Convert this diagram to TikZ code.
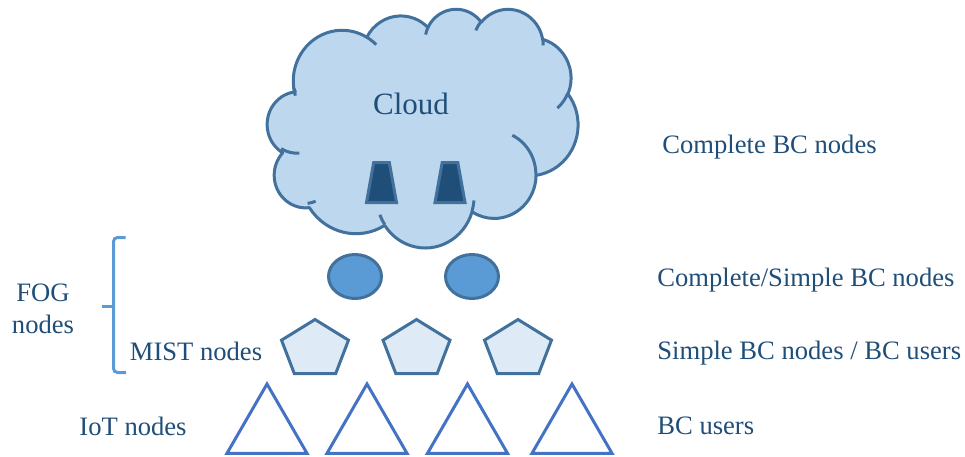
\documentclass[tikz,border=0pt]{standalone}
\usepackage{fontspec}
\setmainfont{Liberation Serif}
\usepackage{tikz}
\usetikzlibrary{shapes}

\definecolor{txtblue}{HTML}{1F4E79}
\definecolor{linebl}{HTML}{41719C}
\definecolor{cloudbl}{HTML}{BDD7EE}
\definecolor{fogbl}{HTML}{5B9BD5}
\definecolor{mistbl}{HTML}{DEEBF7}
\definecolor{iotbl}{HTML}{4472C4}

\begin{document}
\begin{tikzpicture}[x=0.5pt,y=0.5pt]
		\tikzset{lbl/.style={text=txtblue,inner sep=0pt,font=\fontsize{13.3}{16}\selectfont}};
		\tikzset{cloudline/.style={draw=linebl,line width=1.5pt,line join=round}};
		\tikzset{server/.style={fill=txtblue,draw=linebl,line width=1.5pt}};
		\tikzset{fognode/.style={ellipse,fill=fogbl,draw=linebl,line width=1.5pt,minimum width=26.5pt,minimum height=22pt,inner sep=0pt}};
		\tikzset{mistnode/.style={fill=mistbl,draw=linebl,line width=1.5pt,line join=miter}};
		\tikzset{iotnode/.style={regular polygon,regular polygon sides=3,draw=iotbl,line width=1.5pt,minimum size=46.3pt,inner sep=0pt}};
		
		\useasboundingbox (0,0) rectangle (965,-456);
		
		% cloud outline, puff by puff (elliptic arcs), then the inner strokes
		\begin{scope}[shift={(265.5,-8.5)},x=0.0036111pt,y=-0.0027546pt,
			declare function={pang(\a,\w,\h)=\a+Mod(atan2(\w*sin(\a),\h*cos(\a))-\a+180,360)-180;}]
		\coordinate (cloudstart) at (3900,14370);
		\draw [cloudline,fill=cloudbl] (cloudstart)
		\foreach \w/\h/\s/\d in {6753/9190/-190.4875/123.7805,5333/7267/-144.1024/89.9452,
			4365/5945/-145.8079/99.7230,4857/6595/-130.9861/117.2417,5333/7273/-78.7089/109.0269,
			6775/9220/-46.2673/130.2690,5785/7867/0.6250/114.0333,6752/9215/22.4516/115.1726,
			7720/10543/66.2426/71.6264,4360/5918/-274.9421/146.7350,4345/5945/-246.8285/152.5189}
		{arc[start angle={pang(\s,\w,\h)},end angle={pang(\s+\d,\w,\h)},x radius=\w,y radius=\h]}
		-- cycle;
		\foreach \px/\py/\w/\h/\s/\d in {4693/26177/4345/5945/86.742/26.4295,6928/34899/4360/5918/73.6105/11.4475,
			16478/39090/6752/9215/137.6242/14.0811,28827/34751/6752/9215/6.4533/15.9984,
			34129/22954/5785/7867/-70.2924/70.9174,41798/15354/5333/7273/30.3180/27.7515,
			38324/5426/4857/6595/-13.7443/14.8589,29078/3952/4857/6595/-149.1815/18.1954,
			22141/4720/4365/5945/-163.4943/17.6864,14000/5192/6753/9190/-66.7070/12.3194,
			4127/15789/6753/9190/157.6544/11.8582}
		\draw [cloudline] (\px,\py) arc[start angle={pang(\s,\w,\h)},end angle={pang(\s+\d,\w,\h)},x radius=\w,y radius=\h];
		\end{scope}
		\node (cloudtxt) at (411,-104) [text=txtblue,font=\fontsize{15.5}{18}\selectfont]{Cloud};
		\foreach \x [count=\i] in {381.5,450}
		{\coordinate (srv\i) at (\x,-182.5);
		\draw [server] (srv\i) +(-15,-20) -- +(15,-20) -- +(7.8,20) -- +(-7.8,20) -- cycle;}
		
		% fog, mist and iot layers
		\foreach \x [count=\i] in {355,472}
		\node (fog\i) at (\x,-276.5) [fognode]{};
		\foreach \x [count=\i] in {315,416.5,518}
		{\coordinate (mist\i) at (\x,-349.4);
		\draw [mistnode] (mist\i) +(90:35.2 and 29.9) -- +(162:35.2 and 29.9) -- +(234:35.2 and 29.9) -- +(306:35.2 and 29.9) -- +(18:35.2 and 29.9) -- cycle;}
		\foreach \x [count=\i] in {267,367,467.5,572}
		\node (iot\i) at (\x,-430.3) [iotnode]{};
		
		% brace and labels
		\coordinate (brtop) at (125.5,-237.5);
		\coordinate (brbot) at (126,-372.5);
		\coordinate (brtip) at (102,-306);
		\draw [fogbl,line width=1.5pt,rounded corners=2pt] (brtop) -- (113.5,-237.5) -- (113.5,-372.5) -- (brbot);
		\draw [fogbl,line width=1.5pt] (brtip) -- (113.5,-306);
		\node (foglbl) at (43,-309) [lbl,align=center]{FOG\\nodes};
		\node (mistlbl) at (196,-351) [lbl]{MIST nodes};
		\node (iotlbl) at (133,-426) [lbl]{IoT nodes};
		
		\node (r1) at (662,-147) [lbl,anchor=west]{Complete BC nodes};
		\node (r2) at (657,-280) [lbl,anchor=west]{Complete/Simple BC nodes};
		\node (r3) at (657,-353) [lbl,anchor=west]{Simple BC nodes / BC users};
		\node (r4) at (657,-426) [lbl,anchor=west]{BC users};
		\end{tikzpicture}
\end{document}
